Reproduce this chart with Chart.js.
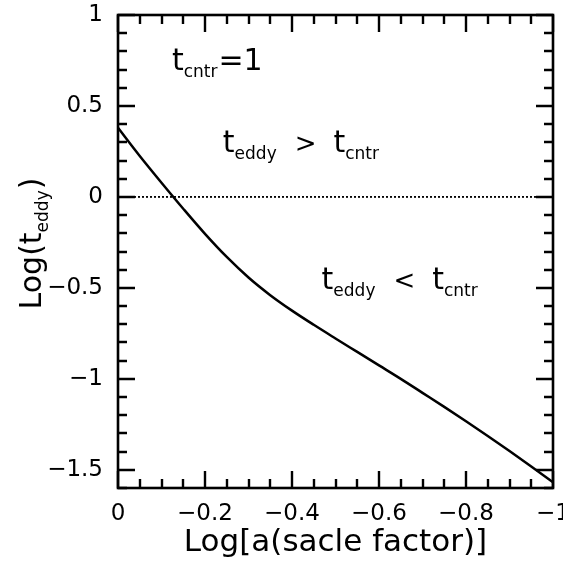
<!DOCTYPE html>
<html><head><meta charset="utf-8">
<script src="https://cdn.jsdelivr.net/npm/chart.js@4.4.0/dist/chart.umd.min.js"></script>
<style>html,body{margin:0;padding:0;background:#fff;} canvas{display:block;}</style>
</head><body>
<canvas id="c" width="563" height="562"></canvas>
<script>
// ---- data ----
const xValues = [0, -0.05, -0.1, -0.15, -0.2, -0.25, -0.3, -0.35, -0.4, -0.45, -0.5,
                 -0.55, -0.6, -0.65, -0.7, -0.75, -0.8, -0.85, -0.9, -0.95, -1.0];
const logTeddy = [0.38, 0.225, 0.078, -0.065, -0.203, -0.33, -0.443, -0.54, -0.625, -0.703, -0.778,
                  -0.852, -0.926, -1.0, -1.077, -1.154, -1.233, -1.314, -1.397, -1.482, -1.569];
const thresholdX = [0, -1];
const thresholdY = [0, 0];
const xTickValues = [0, -0.2, -0.4, -0.6, -0.8, -1];
const xTickLabels = ['0', '\u22120.2', '\u22120.4', '\u22120.6', '\u22120.8', '\u22121'];
const yTickValues = [1, 0.5, 0, -0.5, -1, -1.5];
const yTickLabels = ['1', '0.5', '0', '\u22120.5', '\u22121', '\u22121.5'];
const xTitle = 'Log[a(sacle factor)]';
const yTitleParts = [['Log(', false], ['t', false], ['eddy', true], [')', false]];
const noteTexts = [
  [['t', false], ['cntr', true], ['=1', false]],
  [['t', false], ['eddy', true], ['>', false], ['t', false], ['cntr', true]],
  [['t', false], ['eddy', true], ['<', false], ['t', false], ['cntr', true]]
];
// ---- layout of annotations (data coordinates) ----
const notePos = [{x: -0.124, y: 0.696}, {x: -0.241, y: 0.247}, {x: -0.468, y: -0.505}];

const FONT = 'DejaVu Sans';
const MAIN = 30, SUB = 17, OPS = 26, SUBDROP = 7;

function idxOf(v, arr) {
  for (let i = 0; i < arr.length; i++) if (Math.abs(v - arr[i]) < 1e-6) return i;
  return -1;
}

function drawParts(ctx, parts, x0, y0, gap) {
  let x = x0;
  parts.forEach(([txt, sub], i) => {
    const isOp = !sub && (txt === '>' || txt === '<');
    if (isOp) x += gap;
    if (!sub && txt === 't' && i > 0) x += gap;
    ctx.font = (sub ? SUB : (isOp ? OPS : MAIN)) + 'px "' + FONT + '"';
    ctx.fillText(txt, x, y0 + (sub ? SUBDROP : 0));
    x += ctx.measureText(txt).width + (sub ? 1 : 0);
  });
  return x - x0;
}

const framePlugin = {
  id: 'frame',
  afterDatasetsDraw(chart) {
    const {ctx, chartArea: a, scales: {x, y}} = chart;
    ctx.save();
    ctx.strokeStyle = '#000';
    ctx.lineWidth = 2.4;
    ctx.beginPath();
    y.ticks.forEach(t => {
      const p = Math.round(y.getPixelForValue(t.value));
      const len = idxOf(t.value, yTickValues) >= 0 ? 17 : 9;
      ctx.moveTo(a.left, p); ctx.lineTo(a.left + len, p);
      ctx.moveTo(a.right, p); ctx.lineTo(a.right - len, p);
    });
    x.ticks.forEach(t => {
      const p = Math.round(x.getPixelForValue(t.value));
      const len = idxOf(t.value, xTickValues) >= 0 ? 17 : 9;
      ctx.moveTo(p, a.bottom); ctx.lineTo(p, a.bottom - len);
      ctx.moveTo(p, a.top); ctx.lineTo(p, a.top + len);
    });
    ctx.stroke();
    ctx.lineWidth = 2.6;
    ctx.strokeRect(a.left, a.top, a.right - a.left, a.bottom - a.top);

    ctx.fillStyle = '#000';
    ctx.textBaseline = 'alphabetic';
    ctx.textAlign = 'left';
    noteTexts.forEach((parts, i) => {
      drawParts(ctx, parts, x.getPixelForValue(notePos[i].x), y.getPixelForValue(notePos[i].y), 17);
    });

    // y title (rotated)
    ctx.save();
    let total = 0;
    yTitleParts.forEach(([txt, sub]) => {
      ctx.font = (sub ? SUB : MAIN) + 'px "' + FONT + '"';
      total += ctx.measureText(txt).width + (sub ? 1 : 0);
    });
    const cy = (a.top + a.bottom) / 2 - 8;
    ctx.translate(41, cy + total / 2);
    ctx.rotate(-Math.PI / 2);
    drawParts(ctx, yTitleParts, 0, 0, 0);
    ctx.restore();
    ctx.restore();
  }
};

new Chart(document.getElementById('c'), {
  type: 'scatter',
  data: {
    datasets: [
      {
        data: xValues.map((v, i) => ({x: v, y: logTeddy[i]})),
        showLine: true, borderColor: '#000', borderWidth: 2.5, pointRadius: 0,
        cubicInterpolationMode: 'monotone', fill: false
      },
      {
        data: thresholdX.map((v, i) => ({x: v, y: thresholdY[i]})),
        showLine: true, borderColor: '#000', borderWidth: 1.8, borderDash: [2, 2],
        pointRadius: 0, fill: false
      }
    ]
  },
  options: {
    responsive: false,
    animation: false,
    events: [],
    layout: {padding: {left: 0, top: 15, right: 10, bottom: 0}},
    plugins: {legend: {display: false}, tooltip: {enabled: false}},
    scales: {
      x: {
        type: 'linear', min: -1, max: 0, reverse: true,
        grid: {display: false, drawTicks: false},
        border: {display: false},
        ticks: {
          stepSize: 0.05, autoSkip: false, maxRotation: 0, padding: 12,
          color: '#000', font: {family: FONT, size: 23},
          callback: v => { const i = idxOf(v, xTickValues); return i >= 0 ? xTickLabels[i] : ''; }
        },
        title: {display: true, text: xTitle, color: '#000', font: {family: FONT, size: 31}, padding: {top: 0, bottom: 0}},
        afterFit(s) { s.height = 74; s.paddingLeft = 0; s.paddingRight = 0; }
      },
      y: {
        type: 'linear', min: -1.6, max: 1,
        grid: {display: false, drawTicks: false},
        border: {display: false},
        ticks: {
          stepSize: 0.1, autoSkip: false, padding: 15,
          color: '#000', font: {family: FONT, size: 23},
          callback: v => { const i = idxOf(v, yTickValues); return i >= 0 ? yTickLabels[i] : ''; }
        },
        afterFit(s) { s.width = 118; s.paddingTop = 0; s.paddingBottom = 0; }
      }
    }
  },
  plugins: [framePlugin]
});
</script>
</body></html>
